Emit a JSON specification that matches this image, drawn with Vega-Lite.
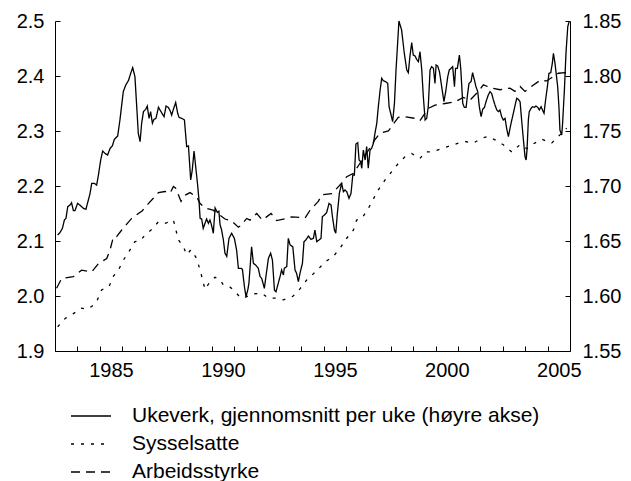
{
"$schema": "https://vega.github.io/schema/vega-lite/v6.json",
"width": 515, "height": 330,
"autosize": {"type": "none"},
"padding": {"left": 55, "top": 21, "right": 61, "bottom": 130},
"background": "white",
"config": {"font": "Liberation Sans", "view": {"stroke": null},
 "axis": {"labelFont": "Liberation Sans", "labelFontSize": 20, "labelColor": "#000", "domainColor": "#000", "tickColor": "#000", "grid": false, "title": null, "domainWidth": 1, "tickWidth": 1, "labelFlush": false, "labelBound": false}},
"datasets": {
"U": [
{"t":1983.12,"v":1.6555},{"t":1983.22,"v":1.6576},{"t":1983.33,"v":1.6615},{"t":1983.42,"v":1.6691},{"t":1983.49,"v":1.6706},{"t":1983.57,"v":1.6812},{"t":1983.67,"v":1.6827},{"t":1983.74,"v":1.6848},{"t":1983.82,"v":1.6776},{"t":1983.89,"v":1.6776},{"t":1984.01,"v":1.6842},{"t":1984.12,"v":1.6824},{"t":1984.27,"v":1.6797},{"t":1984.38,"v":1.6788},{"t":1984.49,"v":1.6873},{"t":1984.56,"v":1.6927},{"t":1984.64,"v":1.7024},{"t":1984.76,"v":1.7024},{"t":1984.86,"v":1.7009},{"t":1984.94,"v":1.71},{"t":1985.04,"v":1.7236},{"t":1985.13,"v":1.7318},{"t":1985.23,"v":1.7297},{"t":1985.35,"v":1.7282},{"t":1985.46,"v":1.7342},{"t":1985.56,"v":1.7364},{"t":1985.65,"v":1.7424},{"t":1985.8,"v":1.7455},{"t":1985.9,"v":1.76},{"t":1986.05,"v":1.7858},{"t":1986.16,"v":1.7918},{"t":1986.28,"v":1.7958},{"t":1986.38,"v":1.8024},{"t":1986.47,"v":1.8076},{"t":1986.57,"v":1.7994},{"t":1986.65,"v":1.7721},{"t":1986.72,"v":1.7479},{"t":1986.8,"v":1.7403},{"t":1986.87,"v":1.757},{"t":1986.95,"v":1.7676},{"t":1987.05,"v":1.7697},{"t":1987.12,"v":1.7727},{"t":1987.2,"v":1.7615},{"t":1987.27,"v":1.7676},{"t":1987.35,"v":1.757},{"t":1987.42,"v":1.7606},{"t":1987.51,"v":1.7615},{"t":1987.62,"v":1.7715},{"t":1987.69,"v":1.7691},{"t":1987.76,"v":1.7667},{"t":1987.87,"v":1.763},{"t":1987.96,"v":1.7727},{"t":1988.06,"v":1.7715},{"t":1988.14,"v":1.7685},{"t":1988.21,"v":1.7645},{"t":1988.3,"v":1.7706},{"t":1988.39,"v":1.7758},{"t":1988.48,"v":1.7661},{"t":1988.54,"v":1.7624},{"t":1988.66,"v":1.7615},{"t":1988.78,"v":1.76},{"t":1988.88,"v":1.7358},{"t":1988.96,"v":1.7364},{"t":1989.06,"v":1.7055},{"t":1989.13,"v":1.7145},{"t":1989.21,"v":1.7318},{"t":1989.3,"v":1.7145},{"t":1989.37,"v":1.7009},{"t":1989.43,"v":1.6873},{"t":1989.48,"v":1.6706},{"t":1989.55,"v":1.67},{"t":1989.62,"v":1.6615},{"t":1989.7,"v":1.6661},{"t":1989.77,"v":1.67},{"t":1989.85,"v":1.6661},{"t":1989.92,"v":1.6691},{"t":1989.99,"v":1.6645},{"t":1990.07,"v":1.657},{"t":1990.15,"v":1.68},{"t":1990.25,"v":1.676},{"t":1990.32,"v":1.677},{"t":1990.37,"v":1.665},{"t":1990.44,"v":1.66},{"t":1990.52,"v":1.651},{"t":1990.59,"v":1.639},{"t":1990.67,"v":1.636},{"t":1990.77,"v":1.6524},{"t":1990.89,"v":1.657},{"t":1991.01,"v":1.6524},{"t":1991.11,"v":1.6418},{"t":1991.19,"v":1.6252},{"t":1991.31,"v":1.6252},{"t":1991.37,"v":1.6242},{"t":1991.46,"v":1.6085},{"t":1991.53,"v":1.5994},{"t":1991.61,"v":1.6055},{"t":1991.66,"v":1.6115},{"t":1991.78,"v":1.6448},{"t":1991.86,"v":1.6297},{"t":1991.96,"v":1.6282},{"t":1992.08,"v":1.6252},{"t":1992.16,"v":1.6176},{"t":1992.23,"v":1.6161},{"t":1992.35,"v":1.607},{"t":1992.42,"v":1.6176},{"t":1992.53,"v":1.6342},{"t":1992.63,"v":1.6388},{"t":1992.71,"v":1.6327},{"t":1992.8,"v":1.6055},{"t":1992.87,"v":1.6039},{"t":1992.97,"v":1.6115},{"t":1993.05,"v":1.6176},{"t":1993.12,"v":1.6236},{"t":1993.2,"v":1.6191},{"t":1993.24,"v":1.6252},{"t":1993.35,"v":1.6267},{"t":1993.42,"v":1.6524},{"t":1993.5,"v":1.6464},{"t":1993.62,"v":1.6448},{"t":1993.72,"v":1.6236},{"t":1993.79,"v":1.6206},{"t":1993.87,"v":1.613},{"t":1993.94,"v":1.6206},{"t":1994.05,"v":1.6297},{"t":1994.12,"v":1.6494},{"t":1994.2,"v":1.6509},{"t":1994.32,"v":1.6545},{"t":1994.43,"v":1.6515},{"t":1994.54,"v":1.6524},{"t":1994.61,"v":1.66},{"t":1994.69,"v":1.6494},{"t":1994.79,"v":1.6509},{"t":1994.88,"v":1.6524},{"t":1994.94,"v":1.6721},{"t":1995.03,"v":1.6736},{"t":1995.13,"v":1.6758},{"t":1995.24,"v":1.6842},{"t":1995.33,"v":1.6827},{"t":1995.39,"v":1.6721},{"t":1995.48,"v":1.66},{"t":1995.54,"v":1.657},{"t":1995.61,"v":1.6752},{"t":1995.7,"v":1.6933},{"t":1995.8,"v":1.7024},{"t":1995.88,"v":1.6948},{"t":1995.95,"v":1.6964},{"t":1996.03,"v":1.6948},{"t":1996.13,"v":1.6888},{"t":1996.22,"v":1.6933},{"t":1996.3,"v":1.71},{"t":1996.37,"v":1.71},{"t":1996.44,"v":1.7382},{"t":1996.52,"v":1.7394},{"t":1996.58,"v":1.7236},{"t":1996.65,"v":1.7221},{"t":1996.7,"v":1.7161},{"t":1996.77,"v":1.7327},{"t":1996.85,"v":1.7236},{"t":1996.92,"v":1.7358},{"t":1996.99,"v":1.7161},{"t":1997.07,"v":1.7327},{"t":1997.14,"v":1.7342},{"t":1997.22,"v":1.7388},{"t":1997.29,"v":1.7479},{"t":1997.37,"v":1.757},{"t":1997.44,"v":1.7721},{"t":1997.52,"v":1.7873},{"t":1997.59,"v":1.7979},{"t":1997.66,"v":1.7958},{"t":1997.77,"v":1.7948},{"t":1997.86,"v":1.7933},{"t":1997.92,"v":1.7721},{"t":1998.01,"v":1.7645},{"t":1998.08,"v":1.7585},{"t":1998.16,"v":1.7752},{"t":1998.23,"v":1.8055},{"t":1998.31,"v":1.8327},{"t":1998.36,"v":1.85},{"t":1998.48,"v":1.8418},{"t":1998.6,"v":1.8206},{"t":1998.71,"v":1.8055},{"t":1998.78,"v":1.803},{"t":1998.85,"v":1.8176},{"t":1998.93,"v":1.8303},{"t":1999.0,"v":1.8191},{"t":1999.08,"v":1.8182},{"t":1999.15,"v":1.8152},{"t":1999.23,"v":1.813},{"t":1999.3,"v":1.8221},{"t":1999.38,"v":1.8055},{"t":1999.45,"v":1.7812},{"t":1999.53,"v":1.76},{"t":1999.6,"v":1.7615},{"t":1999.67,"v":1.7721},{"t":1999.75,"v":1.8055},{"t":1999.82,"v":1.8085},{"t":1999.9,"v":1.807},{"t":1999.97,"v":1.7933},{"t":2000.02,"v":1.81},{"t":2000.09,"v":1.8091},{"t":2000.17,"v":1.8039},{"t":2000.27,"v":1.7903},{"t":2000.37,"v":1.7767},{"t":2000.45,"v":1.7858},{"t":2000.54,"v":1.7994},{"t":2000.61,"v":1.8055},{"t":2000.69,"v":1.807},{"t":2000.76,"v":1.8085},{"t":2000.84,"v":1.7903},{"t":2000.89,"v":1.807},{"t":2000.97,"v":1.807},{"t":2001.06,"v":1.8191},{"t":2001.12,"v":1.807},{"t":2001.21,"v":1.7752},{"t":2001.28,"v":1.7715},{"t":2001.36,"v":1.7715},{"t":2001.43,"v":1.7842},{"t":2001.49,"v":1.7933},{"t":2001.58,"v":1.7948},{"t":2001.65,"v":1.803},{"t":2001.73,"v":1.7964},{"t":2001.8,"v":1.7903},{"t":2001.88,"v":1.7858},{"t":2001.95,"v":1.7721},{"t":2002.03,"v":1.763},{"t":2002.1,"v":1.7697},{"t":2002.18,"v":1.7715},{"t":2002.25,"v":1.7767},{"t":2002.35,"v":1.7827},{"t":2002.43,"v":1.7858},{"t":2002.5,"v":1.7842},{"t":2002.58,"v":1.7782},{"t":2002.65,"v":1.7736},{"t":2002.73,"v":1.7691},{"t":2002.8,"v":1.7676},{"t":2002.87,"v":1.7691},{"t":2002.95,"v":1.763},{"t":2003.02,"v":1.76},{"t":2003.1,"v":1.7615},{"t":2003.17,"v":1.7524},{"t":2003.25,"v":1.7448},{"t":2003.32,"v":1.7524},{"t":2003.4,"v":1.76},{"t":2003.47,"v":1.7661},{"t":2003.54,"v":1.7727},{"t":2003.62,"v":1.7797},{"t":2003.69,"v":1.7788},{"t":2003.77,"v":1.7767},{"t":2003.84,"v":1.76},{"t":2003.92,"v":1.7418},{"t":2003.99,"v":1.7267},{"t":2004.04,"v":1.7236},{"t":2004.08,"v":1.7327},{"t":2004.14,"v":1.76},{"t":2004.18,"v":1.7676},{"t":2004.26,"v":1.7706},{"t":2004.33,"v":1.7721},{"t":2004.41,"v":1.7715},{"t":2004.48,"v":1.7727},{"t":2004.56,"v":1.7715},{"t":2004.63,"v":1.7691},{"t":2004.71,"v":1.7721},{"t":2004.77,"v":1.7691},{"t":2004.84,"v":1.7661},{"t":2004.91,"v":1.7782},{"t":2004.99,"v":1.7903},{"t":2005.06,"v":1.8024},{"t":2005.14,"v":1.803},{"t":2005.21,"v":1.8115},{"t":2005.26,"v":1.8206},{"t":2005.33,"v":1.8115},{"t":2005.39,"v":1.8009},{"t":2005.45,"v":1.7903},{"t":2005.51,"v":1.7706},{"t":2005.55,"v":1.7509},{"t":2005.63,"v":1.7464},{"t":2005.67,"v":1.757},{"t":2005.75,"v":1.7873},{"t":2005.82,"v":1.8206},{"t":2005.9,"v":1.8448},{"t":2005.96,"v":1.8494}
],
"L": [
{"s":"Sysselsatte","t":1983.12,"v":1.944},{"s":"Sysselsatte","t":1983.45,"v":1.959},{"s":"Sysselsatte","t":1983.82,"v":1.968},{"s":"Sysselsatte","t":1984.19,"v":1.978},{"s":"Sysselsatte","t":1984.41,"v":1.976},{"s":"Sysselsatte","t":1984.64,"v":1.981},{"s":"Sysselsatte","t":1984.86,"v":1.99},{"s":"Sysselsatte","t":1985.08,"v":2.011},{"s":"Sysselsatte","t":1985.41,"v":2.017},{"s":"Sysselsatte","t":1985.61,"v":2.036},{"s":"Sysselsatte","t":1985.83,"v":2.047},{"s":"Sysselsatte","t":1986.05,"v":2.065},{"s":"Sysselsatte","t":1986.35,"v":2.084},{"s":"Sysselsatte","t":1986.57,"v":2.099},{"s":"Sysselsatte","t":1986.8,"v":2.1},{"s":"Sysselsatte","t":1987.02,"v":2.111},{"s":"Sysselsatte","t":1987.32,"v":2.121},{"s":"Sysselsatte","t":1987.62,"v":2.135},{"s":"Sysselsatte","t":1987.91,"v":2.132},{"s":"Sysselsatte","t":1988.14,"v":2.135},{"s":"Sysselsatte","t":1988.29,"v":2.138},{"s":"Sysselsatte","t":1988.51,"v":2.102},{"s":"Sysselsatte","t":1988.73,"v":2.09},{"s":"Sysselsatte","t":1988.88,"v":2.075},{"s":"Sysselsatte","t":1989.07,"v":2.084},{"s":"Sysselsatte","t":1989.33,"v":2.068},{"s":"Sysselsatte","t":1989.52,"v":2.041},{"s":"Sysselsatte","t":1989.7,"v":2.012},{"s":"Sysselsatte","t":1989.92,"v":2.026},{"s":"Sysselsatte","t":1990.15,"v":2.034},{"s":"Sysselsatte","t":1990.37,"v":2.03},{"s":"Sysselsatte","t":1990.52,"v":2.02},{"s":"Sysselsatte","t":1990.82,"v":2.016},{"s":"Sysselsatte","t":1991.0,"v":2.01},{"s":"Sysselsatte","t":1991.26,"v":1.998},{"s":"Sysselsatte","t":1991.41,"v":1.996},{"s":"Sysselsatte","t":1991.85,"v":2.004},{"s":"Sysselsatte","t":1992.23,"v":2.005},{"s":"Sysselsatte","t":1992.53,"v":1.996},{"s":"Sysselsatte","t":1992.9,"v":1.996},{"s":"Sysselsatte","t":1993.2,"v":1.993},{"s":"Sysselsatte","t":1993.64,"v":2.0},{"s":"Sysselsatte","t":1993.94,"v":2.013},{"s":"Sysselsatte","t":1994.24,"v":2.029},{"s":"Sysselsatte","t":1994.69,"v":2.046},{"s":"Sysselsatte","t":1995.06,"v":2.062},{"s":"Sysselsatte","t":1995.43,"v":2.072},{"s":"Sysselsatte","t":1995.73,"v":2.087},{"s":"Sysselsatte","t":1996.03,"v":2.105},{"s":"Sysselsatte","t":1996.33,"v":2.12},{"s":"Sysselsatte","t":1996.47,"v":2.138},{"s":"Sysselsatte","t":1996.7,"v":2.141},{"s":"Sysselsatte","t":1996.99,"v":2.159},{"s":"Sysselsatte","t":1997.44,"v":2.193},{"s":"Sysselsatte","t":1997.74,"v":2.211},{"s":"Sysselsatte","t":1998.04,"v":2.226},{"s":"Sysselsatte","t":1998.33,"v":2.241},{"s":"Sysselsatte","t":1998.63,"v":2.253},{"s":"Sysselsatte","t":1998.93,"v":2.259},{"s":"Sysselsatte","t":1999.3,"v":2.25},{"s":"Sysselsatte","t":1999.53,"v":2.262},{"s":"Sysselsatte","t":1999.82,"v":2.262},{"s":"Sysselsatte","t":2000.27,"v":2.268},{"s":"Sysselsatte","t":2000.57,"v":2.272},{"s":"Sysselsatte","t":2001.01,"v":2.278},{"s":"Sysselsatte","t":2001.31,"v":2.281},{"s":"Sysselsatte","t":2001.68,"v":2.278},{"s":"Sysselsatte","t":2002.06,"v":2.287},{"s":"Sysselsatte","t":2002.35,"v":2.29},{"s":"Sysselsatte","t":2002.65,"v":2.284},{"s":"Sysselsatte","t":2003.02,"v":2.275},{"s":"Sysselsatte","t":2003.4,"v":2.262},{"s":"Sysselsatte","t":2003.77,"v":2.275},{"s":"Sysselsatte","t":2004.07,"v":2.268},{"s":"Sysselsatte","t":2004.29,"v":2.275},{"s":"Sysselsatte","t":2004.74,"v":2.285},{"s":"Sysselsatte","t":2005.18,"v":2.278},{"s":"Sysselsatte","t":2005.55,"v":2.293},{"s":"Sysselsatte","t":2005.85,"v":2.305},
{"s":"Arbeidsstyrke","t":1983.07,"v":2.014},{"s":"Arbeidsstyrke","t":1983.3,"v":2.032},{"s":"Arbeidsstyrke","t":1983.82,"v":2.035},{"s":"Arbeidsstyrke","t":1984.19,"v":2.047},{"s":"Arbeidsstyrke","t":1984.64,"v":2.044},{"s":"Arbeidsstyrke","t":1984.94,"v":2.059},{"s":"Arbeidsstyrke","t":1985.31,"v":2.068},{"s":"Arbeidsstyrke","t":1985.46,"v":2.084},{"s":"Arbeidsstyrke","t":1985.61,"v":2.108},{"s":"Arbeidsstyrke","t":1985.75,"v":2.108},{"s":"Arbeidsstyrke","t":1985.98,"v":2.12},{"s":"Arbeidsstyrke","t":1986.42,"v":2.141},{"s":"Arbeidsstyrke","t":1986.9,"v":2.155},{"s":"Arbeidsstyrke","t":1987.17,"v":2.168},{"s":"Arbeidsstyrke","t":1987.62,"v":2.188},{"s":"Arbeidsstyrke","t":1987.91,"v":2.19},{"s":"Arbeidsstyrke","t":1988.14,"v":2.187},{"s":"Arbeidsstyrke","t":1988.29,"v":2.199},{"s":"Arbeidsstyrke","t":1988.39,"v":2.196},{"s":"Arbeidsstyrke","t":1988.63,"v":2.172},{"s":"Arbeidsstyrke","t":1988.84,"v":2.184},{"s":"Arbeidsstyrke","t":1989.03,"v":2.188},{"s":"Arbeidsstyrke","t":1989.33,"v":2.18},{"s":"Arbeidsstyrke","t":1989.48,"v":2.168},{"s":"Arbeidsstyrke","t":1989.7,"v":2.16},{"s":"Arbeidsstyrke","t":1990.06,"v":2.156},{"s":"Arbeidsstyrke","t":1990.59,"v":2.14},{"s":"Arbeidsstyrke","t":1990.9,"v":2.136},{"s":"Arbeidsstyrke","t":1991.19,"v":2.125},{"s":"Arbeidsstyrke","t":1991.3,"v":2.128},{"s":"Arbeidsstyrke","t":1991.56,"v":2.141},{"s":"Arbeidsstyrke","t":1991.71,"v":2.138},{"s":"Arbeidsstyrke","t":1992.01,"v":2.15},{"s":"Arbeidsstyrke","t":1992.26,"v":2.138},{"s":"Arbeidsstyrke","t":1992.65,"v":2.15},{"s":"Arbeidsstyrke","t":1992.9,"v":2.137},{"s":"Arbeidsstyrke","t":1993.35,"v":2.141},{"s":"Arbeidsstyrke","t":1993.57,"v":2.144},{"s":"Arbeidsstyrke","t":1994.17,"v":2.142},{"s":"Arbeidsstyrke","t":1994.39,"v":2.156},{"s":"Arbeidsstyrke","t":1994.76,"v":2.172},{"s":"Arbeidsstyrke","t":1994.91,"v":2.184},{"s":"Arbeidsstyrke","t":1995.36,"v":2.186},{"s":"Arbeidsstyrke","t":1995.8,"v":2.205},{"s":"Arbeidsstyrke","t":1996.03,"v":2.217},{"s":"Arbeidsstyrke","t":1996.33,"v":2.223},{"s":"Arbeidsstyrke","t":1996.6,"v":2.24},{"s":"Arbeidsstyrke","t":1997.0,"v":2.265},{"s":"Arbeidsstyrke","t":1997.3,"v":2.285},{"s":"Arbeidsstyrke","t":1997.52,"v":2.296},{"s":"Arbeidsstyrke","t":1997.89,"v":2.3},{"s":"Arbeidsstyrke","t":1998.33,"v":2.325},{"s":"Arbeidsstyrke","t":1998.63,"v":2.326},{"s":"Arbeidsstyrke","t":1999.08,"v":2.323},{"s":"Arbeidsstyrke","t":1999.3,"v":2.319},{"s":"Arbeidsstyrke","t":1999.67,"v":2.341},{"s":"Arbeidsstyrke","t":1999.97,"v":2.347},{"s":"Arbeidsstyrke","t":2000.42,"v":2.35},{"s":"Arbeidsstyrke","t":2000.86,"v":2.353},{"s":"Arbeidsstyrke","t":2001.24,"v":2.361},{"s":"Arbeidsstyrke","t":2001.53,"v":2.356},{"s":"Arbeidsstyrke","t":2001.91,"v":2.372},{"s":"Arbeidsstyrke","t":2002.13,"v":2.384},{"s":"Arbeidsstyrke","t":2002.5,"v":2.378},{"s":"Arbeidsstyrke","t":2002.88,"v":2.375},{"s":"Arbeidsstyrke","t":2003.32,"v":2.378},{"s":"Arbeidsstyrke","t":2003.54,"v":2.372},{"s":"Arbeidsstyrke","t":2003.77,"v":2.381},{"s":"Arbeidsstyrke","t":2003.99,"v":2.372},{"s":"Arbeidsstyrke","t":2004.21,"v":2.379},{"s":"Arbeidsstyrke","t":2004.66,"v":2.392},{"s":"Arbeidsstyrke","t":2004.96,"v":2.391},{"s":"Arbeidsstyrke","t":2005.48,"v":2.405},{"s":"Arbeidsstyrke","t":2005.78,"v":2.406},{"s":"Arbeidsstyrke","t":2005.98,"v":2.405}
]
},
"layer": [
 {"data": {"name": "L"},
  "mark": {"type": "line", "strokeWidth": 1.3, "color": "#000"},
  "encoding": {
   "x": {"field": "t", "type": "quantitative", "scale": {"domain": [1983, 2006], "nice": false, "zero": false},
    "axis": {"orient": "bottom", "values": [1983,1984,1985,1986,1987,1988,1989,1990,1991,1992,1993,1994,1995,1996,1997,1998,1999,2000,2001,2002,2003,2004,2005],
     "labels": false, "tickSize": -5}},
   "y": {"field": "v", "type": "quantitative", "scale": {"domain": [1.9, 2.5], "nice": false, "zero": false},
    "axis": {"orient": "left", "values": [1.9,2.0,2.1,2.2,2.3,2.4,2.5], "format": ".1f", "tickSize": -5, "labelPadding": 16}},
   "strokeDash": {"field": "s", "type": "nominal",
    "scale": {"domain": ["Ukeverk, gjennomsnitt per uke (høyre akse)", "Sysselsatte", "Arbeidsstyrke"], "range": [[1,0],[3,7],[9,6]]},
    "legend": {"orient": "none", "legendX": 25, "legendY": 384, "title": null, "symbolType": "M-2,0H2", "symbolSize": 400, "symbolStrokeWidth": 1.3, "symbolStrokeColor": "#000", "symbolFillColor": "transparent", "labelFontSize": 21, "labelFont": "Liberation Sans", "labelColor": "#000", "labelOffset": 30, "rowPadding": 7, "labelLimit": 700, "padding": 0}}
  }},
 {"data": {"name": "U"},
  "transform": [{"calculate": "'Ukeverk, gjennomsnitt per uke (høyre akse)'", "as": "s"}],
  "mark": {"type": "line", "strokeWidth": 1.3, "color": "#000"},
  "encoding": {
   "x": {"field": "t", "type": "quantitative",
    "axis": {"orient": "bottom", "values": [1985, 1990, 1995, 2000, 2005], "format": "d", "labelOffset": 11.2, "ticks": false, "domain": false, "labelPadding": 9, "labelOverlap": false}},
   "y": {"field": "v", "type": "quantitative", "scale": {"domain": [1.55, 1.85], "nice": false, "zero": false},
    "axis": {"orient": "right", "values": [1.55,1.6,1.65,1.7,1.75,1.8,1.85], "format": ".2f", "tickSize": -5, "labelPadding": 17}},
   "strokeDash": {"field": "s", "type": "nominal"}
  }}
],
"resolve": {"scale": {"y": "independent"}, "axis": {"x": "independent"}}
}
